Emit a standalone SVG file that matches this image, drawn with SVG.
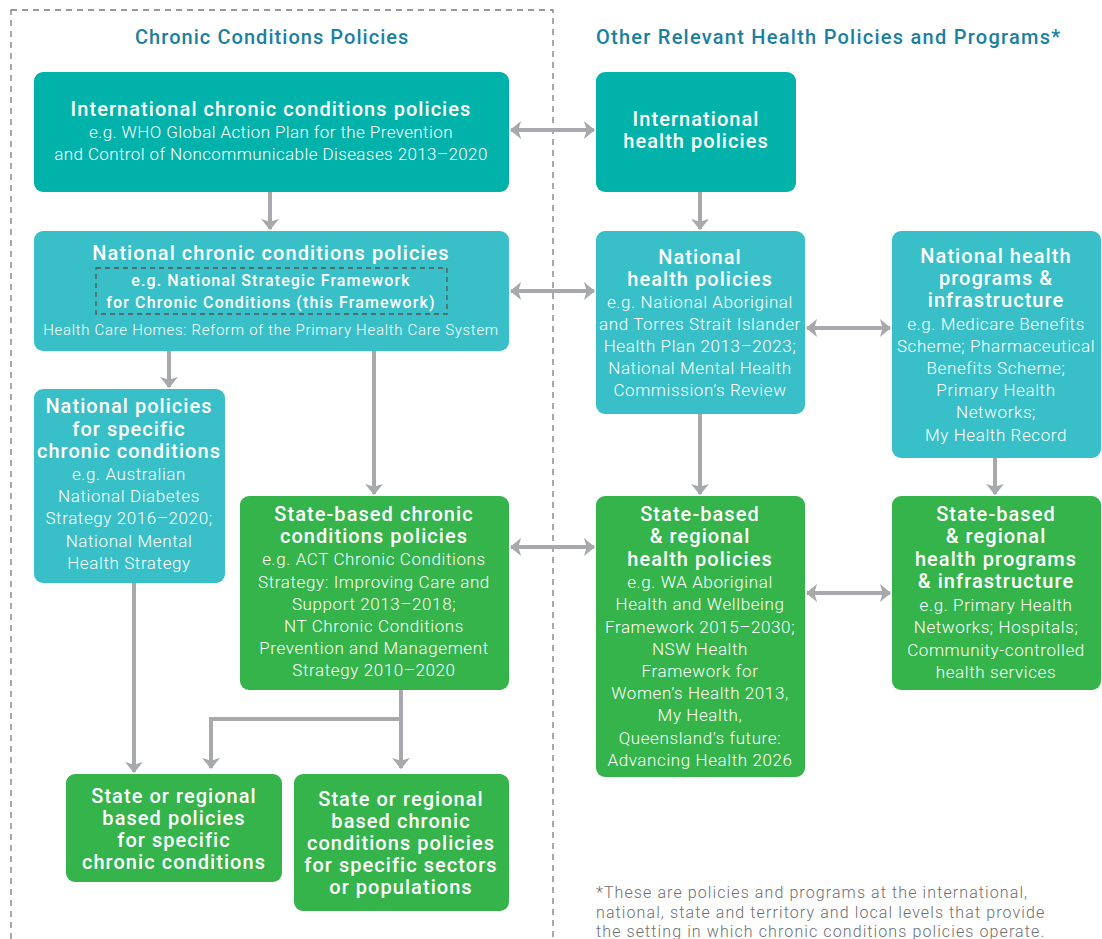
<svg xmlns="http://www.w3.org/2000/svg" width="1102" height="939" viewBox="0 0 1102 939">
<style>
.teal{fill:#00b2aa}
.cyan{fill:#38bfc8}
.green{fill:#34b44b}
text{font-family:Roboto,"Liberation Sans",sans-serif;text-anchor:middle;fill:#fff}
.h{font-size:20px;font-weight:500;letter-spacing:1.05px}
.b{font-size:17px;font-weight:300;letter-spacing:0.6px}
.b1{font-size:17px;font-weight:300;letter-spacing:0.4px}
.sb{font-size:16px;font-weight:500;letter-spacing:1.1px}
.sec{font-size:20px;font-weight:500;fill:#1b7fa1;text-anchor:start;letter-spacing:1.05px}
.fn{font-size:16px;font-weight:300;fill:#6d6e71;text-anchor:start;letter-spacing:1.1px}
.con{stroke:#a7a9ac;stroke-width:4;fill:none}
</style>
<defs>
<marker id="ah" viewBox="0 0 10 16" refX="9" refY="8" markerWidth="2.8" markerHeight="4.6" orient="auto-start-reverse" markerUnits="strokeWidth">
<path d="M0,0 L10,8 L0,16 L2.5,8 z" fill="#a7a9ac"/>
</marker>
</defs>
<rect x="11" y="10" width="542" height="940" fill="none" stroke="#7a7a7a" stroke-width="1.3" stroke-dasharray="6,5"/>
<text class="sec" x="135" y="44">Chronic Conditions Policies</text>
<text class="sec" x="596" y="44" style="letter-spacing:1.25px">Other Relevant Health Policies and Programs*</text>

<g id="connectors">
<line class="con" x1="270" y1="192" x2="270" y2="229" marker-end="url(#ah)"/>
<line class="con" x1="700" y1="192" x2="700" y2="229" marker-end="url(#ah)"/>
<line class="con" x1="511" y1="130" x2="594" y2="130" marker-start="url(#ah)" marker-end="url(#ah)"/>
<line class="con" x1="511" y1="291" x2="594" y2="291" marker-start="url(#ah)" marker-end="url(#ah)"/>
<line class="con" x1="807" y1="328" x2="890" y2="328" marker-start="url(#ah)" marker-end="url(#ah)"/>
<line class="con" x1="511" y1="547" x2="594" y2="547" marker-start="url(#ah)" marker-end="url(#ah)"/>
<line class="con" x1="807" y1="593" x2="890" y2="593" marker-start="url(#ah)" marker-end="url(#ah)"/>
<line class="con" x1="169" y1="351" x2="169" y2="387" marker-end="url(#ah)"/>
<line class="con" x1="374" y1="351" x2="374" y2="494" marker-end="url(#ah)"/>
<line class="con" x1="700" y1="414" x2="700" y2="494" marker-end="url(#ah)"/>
<line class="con" x1="995" y1="458" x2="995" y2="494" marker-end="url(#ah)"/>
<line class="con" x1="134" y1="583" x2="134" y2="772" marker-end="url(#ah)"/>
<line class="con" x1="401" y1="690" x2="401" y2="768" marker-end="url(#ah)"/>
<polyline class="con" points="401,719 211,719 211,768" marker-end="url(#ah)"/>
</g>

<g id="n-intl-cc">
<rect class="teal" x="34" y="72" width="475" height="120" rx="9"/>
<text class="h" x="271" y="116">International chronic conditions policies</text>
<text class="b1" x="271" y="138">e.g. WHO Global Action Plan for the Prevention</text>
<text class="b1" x="271" y="160">and Control of Noncommunicable Diseases 2013–2020</text>
</g>

<g id="n-intl-health">
<rect class="teal" x="596" y="72" width="200" height="120" rx="9"/>
<text class="h" x="696" y="126">International</text>
<text class="h" x="696" y="148">health policies</text>
</g>

<g id="n-nat-cc">
<rect class="cyan" x="34" y="231" width="475" height="120" rx="9"/>
<text class="h" x="271" y="260">National chronic conditions policies</text>
<rect x="96" y="268" width="351" height="46" fill="none" stroke="#555" stroke-width="1.3" stroke-dasharray="5,4"/>
<text class="sb" x="271" y="286">e.g. National Strategic Framework</text>
<text class="sb" x="271" y="308">for Chronic Conditions (this Framework)</text>
<text class="b" x="271" y="335" style="font-size:15px;letter-spacing:0.7px">Health Care Homes: Reform of the Primary Health Care System</text>
</g>

<g id="n-nat-health">
<rect class="cyan" x="596" y="231" width="209" height="183" rx="9"/>
<text class="h" x="700" y="264">National</text>
<text class="h" x="700" y="286">health policies</text>
<text class="b" x="700" y="308">e.g. National Aboriginal</text>
<text class="b" x="700" y="330">and Torres Strait Islander</text>
<text class="b" x="700" y="352">Health Plan 2013–2023;</text>
<text class="b" x="700" y="374">National Mental Health</text>
<text class="b" x="700" y="396">Commission’s Review</text>
</g>

<g id="n-nat-prog">
<rect class="cyan" x="892" y="231" width="209" height="227" rx="9"/>
<text class="h" x="996" y="263">National health</text>
<text class="h" x="996" y="285">programs &amp;</text>
<text class="h" x="996" y="307">infrastructure</text>
<text class="b" x="996" y="330">e.g. Medicare Benefits</text>
<text class="b" x="996" y="352">Scheme; Pharmaceutical</text>
<text class="b" x="996" y="374">Benefits Scheme;</text>
<text class="b" x="996" y="396">Primary Health</text>
<text class="b" x="996" y="418">Networks;</text>
<text class="b" x="996" y="441">My Health Record</text>
</g>

<g id="n-nat-specific">
<rect class="cyan" x="34" y="389" width="191" height="194" rx="9"/>
<text class="h" x="129" y="413">National policies</text>
<text class="h" x="129" y="436">for specific</text>
<text class="h" x="129" y="458">chronic conditions</text>
<text class="b" x="129" y="480">e.g. Australian</text>
<text class="b" x="129" y="502">National Diabetes</text>
<text class="b" x="129" y="524">Strategy 2016–2020;</text>
<text class="b" x="129" y="547">National Mental</text>
<text class="b" x="129" y="569">Health Strategy</text>
</g>

<g id="n-state-cc">
<rect class="green" x="240" y="496" width="269" height="194" rx="9"/>
<text class="h" x="374" y="521">State-based chronic</text>
<text class="h" x="374" y="543">conditions policies</text>
<text class="b" x="374" y="565">e.g. ACT Chronic Conditions</text>
<text class="b" x="374" y="588">Strategy: Improving Care and</text>
<text class="b" x="374" y="610">Support 2013–2018;</text>
<text class="b" x="374" y="632">NT Chronic Conditions</text>
<text class="b" x="374" y="654">Prevention and Management</text>
<text class="b" x="374" y="676">Strategy 2010–2020</text>
</g>

<g id="n-state-health">
<rect class="green" x="596" y="496" width="209" height="281" rx="9"/>
<text class="h" x="700" y="521">State-based</text>
<text class="h" x="700" y="543">&amp; regional</text>
<text class="h" x="700" y="566">health policies</text>
<text class="b" x="700" y="588">e.g. WA Aboriginal</text>
<text class="b" x="700" y="610">Health and Wellbeing</text>
<text class="b" x="700" y="633">Framework 2015–2030;</text>
<text class="b" x="700" y="655">NSW Health</text>
<text class="b" x="700" y="677">Framework for</text>
<text class="b" x="700" y="699">Women’s Health 2013,</text>
<text class="b" x="700" y="721">My Health,</text>
<text class="b" x="700" y="744">Queensland’s future:</text>
<text class="b" x="700" y="766">Advancing Health 2026</text>
</g>

<g id="n-state-prog">
<rect class="green" x="892" y="496" width="209" height="194" rx="9"/>
<text class="h" x="996" y="521">State-based</text>
<text class="h" x="996" y="543">&amp; regional</text>
<text class="h" x="996" y="566">health programs</text>
<text class="h" x="996" y="588">&amp; infrastructure</text>
<text class="b" x="996" y="611">e.g. Primary Health</text>
<text class="b" x="996" y="633">Networks; Hospitals;</text>
<text class="b" x="996" y="656">Community-controlled</text>
<text class="b" x="996" y="678">health services</text>
</g>

<g id="n-state-specific">
<rect class="green" x="66" y="774" width="216" height="108" rx="9"/>
<text class="h" x="174" y="803">State or regional</text>
<text class="h" x="174" y="825">based policies</text>
<text class="h" x="174" y="847">for specific</text>
<text class="h" x="174" y="869">chronic conditions</text>
</g>

<g id="n-state-sectors">
<rect class="green" x="294" y="774" width="215" height="137" rx="9"/>
<text class="h" x="401" y="806">State or regional</text>
<text class="h" x="401" y="828">based chronic</text>
<text class="h" x="401" y="850">conditions policies</text>
<text class="h" x="401" y="872">for specific sectors</text>
<text class="h" x="401" y="894">or populations</text>
</g>

<text class="fn" x="596" y="898">*These are policies and programs at the international,</text>
<text class="fn" x="596" y="918">national, state and territory and local levels that provide</text>
<text class="fn" x="596" y="937">the setting in which chronic conditions policies operate.</text>
</svg>
